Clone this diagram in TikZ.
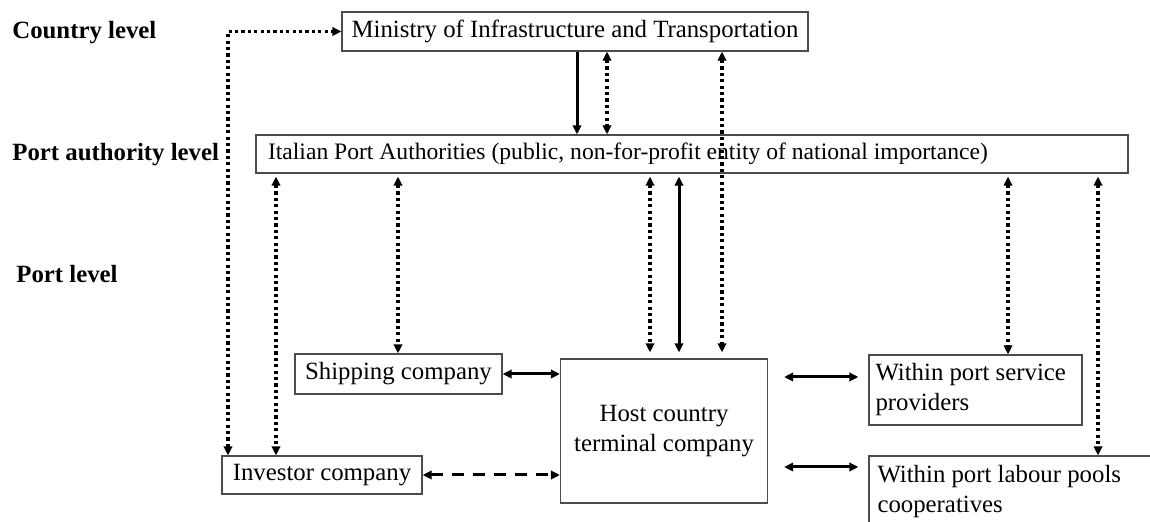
\documentclass[tikz,border=0pt]{standalone}
\usepackage{fontspec}
\setmainfont{Liberation Serif}
\usetikzlibrary{arrows.meta}
\begin{document}
\begin{tikzpicture}[x=0.5pt,y=-0.5pt,
    >={Triangle[length=4.5pt,width=4.2pt]},
    box/.style={draw=black!70, line width=0.6pt, inner sep=0pt,
      font=\fontsize{12.4}{15}\selectfont},
    lvl/.style={font=\fontsize{12.4}{14}\selectfont\bfseries, anchor=west, inner sep=0pt},
    plain/.style={line width=1.5pt},
    dots/.style={line width=1.6pt, dash pattern=on 1.6pt off 1.6pt},
    brk/.style={line width=1.5pt, dash pattern=on 6pt off 4.5pt}]

  \useasboundingbox (0,0) rectangle (1150,522);

  % levels
  \node[lvl] (country) at (12,33)  {Country level};
  \node[lvl] (palevel) at (12,155) {Port authority level};
  \node[lvl] (port)    at (16,274) {Port level};

  % actors
  \begin{scope}[every node/.style={box}]
    \node[minimum width=233pt, minimum height=19.5pt] (min) at (575,31.5)
      {Ministry of Infrastructure and Transportation};
    \node[minimum width=436pt, minimum height=19pt, text width=424pt, align=flush left,
      font=\fontsize{11.8}{15}\selectfont] (pa) at (692,154)
      {Italian Port Authorities (public, non-for-profit entity of national importance)};
    \node[minimum width=103.5pt, minimum height=20pt] (ship) at (398.5,374) {Shipping company};
    \node[minimum width=100pt, minimum height=19pt] (inv) at (322,475) {Investor company};
    \node[minimum width=103.5pt, minimum height=72pt, align=center] (host) at (664,431)
      {Host country\\terminal company};
    \node[minimum width=106.5pt, minimum height=35pt, text width=100pt, align=flush left] (serv) at (975.5,390)
      {Within port service\\providers};
    \node[minimum width=150.5pt, minimum height=36pt, text width=142pt, align=flush left] (lab) at (1019.5,492)
      {Within port labour pools\\cooperatives};
  \end{scope}

  % country level links
  \draw[dots,<->] (inv.north -| 228,0) |- (min.west);
  \draw[plain,->] (min.south -| 577,0) -- (pa.north -| 577,0);
  \draw[dots,<->] (min.south -| 607,0) -- (pa.north -| 607,0);
  \draw[dots,<->,shorten >=3pt] (min.south -| 722,0) -- (host.north -| 722,0);

  % port authority links
  \begin{scope}[shorten <=1.5pt]
    \draw[dots,<->] (pa.south -| 276,0) -- (inv.north -| 276,0);
    \draw[dots,<->] (pa.south -| 398,0) -- (ship.north -| 398,0);
    \draw[dots,<->,shorten >=3pt] (pa.south -| 650,0) -- (host.north -| 650,0);
    \draw[plain,<->,shorten >=3pt] (pa.south -| 679,0) -- (host.north -| 679,0);
    \draw[dots,<->] (pa.south -| 1008,0) -- (serv.north -| 1008,0);
    \draw[dots,<->] (pa.south -| 1098,0) -- (lab.north -| 1098,0);
  \end{scope}

  % port level links
  \draw[plain,<->] (ship.east) -- (host.west |- ship.east);
  \draw[brk,<->] (inv.east) -- (host.west |- inv.east);
  \draw[plain,<->,shorten <=8pt,shorten >=5pt] (host.east |- 0,377) -- (serv.west |- 0,377);
  \draw[plain,<->,shorten <=8pt,shorten >=5pt] (host.east |- 0,467) -- (lab.west |- 0,467);

\end{tikzpicture}
\end{document}
